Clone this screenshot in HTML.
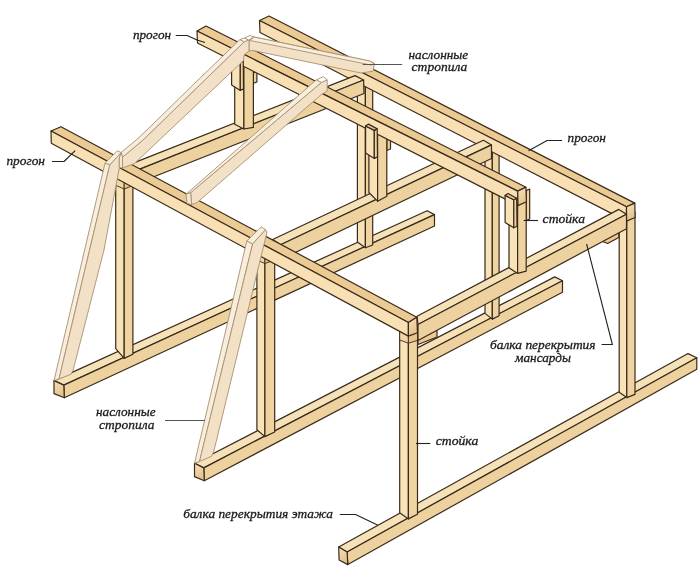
<!DOCTYPE html>
<html><head><meta charset="utf-8"><title>Каркас мансарды</title>
<style>html,body{margin:0;padding:0;background:#fff}svg{display:block}</style></head>
<body><svg width="700" height="570" viewBox="0 0 700 570">
<defs><linearGradient id="eg" x1="0" y1="0" x2="0.3" y2="1"><stop offset="0" stop-color="#F7E2BC"/><stop offset="1" stop-color="#E4C18D"/></linearGradient></defs>
<rect width="700" height="570" fill="#fff"/>
<polygon points="54.0,380.6 427.1,210.7 434.5,214.6 63.8,385.1" fill="#F6E2B8" stroke="#3a2a1a" stroke-width="1.20" stroke-linejoin="round" />
<polygon points="63.8,385.1 434.5,214.6 434.5,226.0 64.3,397.7" fill="#EDD19F" stroke="#3a2a1a" stroke-width="1.20" stroke-linejoin="round" />
<polygon points="54.0,380.6 63.8,385.1 64.3,397.7 54.0,393.6" fill="url(#eg)" stroke="#3a2a1a" stroke-width="1.20" stroke-linejoin="round" />
<polygon points="194.5,463.3 554.7,276.9 562.5,280.7 203.8,467.9" fill="#F6E2B8" stroke="#3a2a1a" stroke-width="1.20" stroke-linejoin="round" />
<polygon points="203.8,467.9 562.5,280.7 562.5,292.2 204.3,480.7" fill="#EDD19F" stroke="#3a2a1a" stroke-width="1.20" stroke-linejoin="round" />
<polygon points="194.5,463.3 203.8,467.9 204.3,480.7 194.5,476.6" fill="url(#eg)" stroke="#3a2a1a" stroke-width="1.20" stroke-linejoin="round" />
<polygon points="338.7,547.0 688.0,353.6 696.8,357.7 347.1,552.0" fill="#F6E2B8" stroke="#3a2a1a" stroke-width="1.20" stroke-linejoin="round" />
<polygon points="347.1,552.0 696.8,357.7 696.8,369.3 347.8,564.6" fill="#EDD19F" stroke="#3a2a1a" stroke-width="1.20" stroke-linejoin="round" />
<polygon points="338.7,547.0 347.1,552.0 347.8,564.6 339.1,560.0" fill="url(#eg)" stroke="#3a2a1a" stroke-width="1.20" stroke-linejoin="round" />
<polygon points="357.4,80.0 365.4,80.0 365.4,247.7 357.4,242.0" fill="#F8E3B9" stroke="#3a2a1a" stroke-width="1.20" stroke-linejoin="round" />
<polygon points="365.4,80.0 372.7,80.0 372.7,245.0 365.4,247.7" fill="#EFD3A0" stroke="#3a2a1a" stroke-width="1.20" stroke-linejoin="round" />
<polygon points="485.0,146.0 492.3,146.0 492.3,319.1 485.0,313.4" fill="#F8E3B9" stroke="#3a2a1a" stroke-width="1.20" stroke-linejoin="round" />
<polygon points="492.3,146.0 499.1,146.0 499.1,315.7 492.3,319.1" fill="#EFD3A0" stroke="#3a2a1a" stroke-width="1.20" stroke-linejoin="round" />
<polygon points="619.2,212.0 626.8,212.0 626.8,397.6 619.2,392.2" fill="#F8E3B9" stroke="#3a2a1a" stroke-width="1.20" stroke-linejoin="round" />
<polygon points="626.8,212.0 635.0,212.0 635.0,394.4 626.8,397.6" fill="#EFD3A0" stroke="#3a2a1a" stroke-width="1.20" stroke-linejoin="round" />
<polygon points="259.5,20.5 269.0,16.0 634.8,203.1 626.5,206.7" fill="#EBCA93" stroke="#3a2a1a" stroke-width="1.20" stroke-linejoin="round" />
<polygon points="259.5,20.5 626.5,206.7 626.5,221.1 260.0,32.5" fill="#F8E0B4" stroke="#3a2a1a" stroke-width="1.20" stroke-linejoin="round" />
<polygon points="626.5,206.7 634.8,203.1 635.1,217.5 626.5,221.1" fill="url(#eg)" stroke="#3a2a1a" stroke-width="1.20" stroke-linejoin="round" />
<polygon points="115.7,176.0 124.2,176.0 124.2,358.4 115.7,348.6" fill="#F8E3B9" stroke="#3a2a1a" stroke-width="1.20" stroke-linejoin="round" />
<polygon points="124.2,176.0 132.9,176.0 132.9,354.3 124.2,358.4" fill="#EFD3A0" stroke="#3a2a1a" stroke-width="1.20" stroke-linejoin="round" />
<polygon points="256.9,252.0 264.9,252.0 264.9,436.6 256.9,429.7" fill="#F8E3B9" stroke="#3a2a1a" stroke-width="1.20" stroke-linejoin="round" />
<polygon points="264.9,252.0 274.7,252.0 274.7,432.0 264.9,436.6" fill="#EFD3A0" stroke="#3a2a1a" stroke-width="1.20" stroke-linejoin="round" />
<polygon points="399.7,326.0 408.4,326.0 408.4,518.9 399.7,512.7" fill="#F8E3B9" stroke="#3a2a1a" stroke-width="1.20" stroke-linejoin="round" />
<polygon points="408.4,326.0 417.5,326.0 417.5,514.3 408.4,518.9" fill="#EFD3A0" stroke="#3a2a1a" stroke-width="1.20" stroke-linejoin="round" />
<polygon points="115.7,176.0 124.2,176.0 124.2,189.0 115.7,185.3" fill="#F0D6A6" stroke="#3a2a1a" stroke-width="0.90" stroke-linejoin="round" />
<polygon points="124.2,176.0 132.9,176.0 132.9,185.5 124.2,189.0" fill="#E6C58F" stroke="#3a2a1a" stroke-width="0.90" stroke-linejoin="round" />
<polygon points="256.9,252.0 264.9,252.0 264.9,263.5 256.9,260.0" fill="#F0D6A6" stroke="#3a2a1a" stroke-width="0.90" stroke-linejoin="round" />
<polygon points="264.9,252.0 274.7,252.0 274.7,260.0 264.9,263.5" fill="#E6C58F" stroke="#3a2a1a" stroke-width="0.90" stroke-linejoin="round" />
<polygon points="399.7,326.0 408.4,326.0 408.4,343.2 399.7,340.0" fill="#F0D6A6" stroke="#3a2a1a" stroke-width="0.90" stroke-linejoin="round" />
<polygon points="408.4,326.0 417.5,326.0 417.5,340.4 408.4,343.2" fill="#E6C58F" stroke="#3a2a1a" stroke-width="0.90" stroke-linejoin="round" />
<polygon points="128.0,165.1 355.0,75.6 363.6,80.0 128.0,173.9" fill="#F6E2B8" stroke="#3a2a1a" stroke-width="1.20" stroke-linejoin="round" />
<polygon points="128.0,173.9 363.6,80.0 364.0,93.5 133.0,185.0" fill="#EDD19F" stroke="#3a2a1a" stroke-width="1.20" stroke-linejoin="round" />
<polygon points="253.4,73.0 256.9,71.5 256.9,82.0 253.4,83.2" fill="#EFD3A0" stroke="#3a2a1a" stroke-width="1.20" stroke-linejoin="round" />
<polygon points="234.7,60.0 243.9,60.0 243.9,129.0 234.7,124.3" fill="#F8E3B9" stroke="#3a2a1a" stroke-width="1.20" stroke-linejoin="round" />
<polygon points="243.9,60.0 253.4,60.0 253.4,127.4 243.9,129.0" fill="#EFD3A0" stroke="#3a2a1a" stroke-width="1.20" stroke-linejoin="round" />
<polygon points="272.6,239.5 483.4,140.3 491.5,144.9 280.6,244.8" fill="#F6E2B8" stroke="#3a2a1a" stroke-width="1.20" stroke-linejoin="round" />
<polygon points="280.6,244.8 491.5,144.9 491.5,158.5 287.4,256.3" fill="#EDD19F" stroke="#3a2a1a" stroke-width="1.20" stroke-linejoin="round" />
<polygon points="386.8,140.0 390.5,138.5 390.5,149.0 386.8,150.5" fill="#EFD3A0" stroke="#3a2a1a" stroke-width="1.20" stroke-linejoin="round" />
<polygon points="368.9,130.0 377.6,130.0 377.6,201.2 368.9,192.5" fill="#F8E3B9" stroke="#3a2a1a" stroke-width="1.20" stroke-linejoin="round" />
<polygon points="377.6,130.0 386.8,130.0 386.8,196.3 377.6,201.2" fill="#EFD3A0" stroke="#3a2a1a" stroke-width="1.20" stroke-linejoin="round" />
<polygon points="418.0,336.0 437.0,326.0 437.0,337.0 418.0,344.5" fill="#EBCA93" stroke="#3a2a1a" stroke-width="1.20" stroke-linejoin="round" />
<polygon points="602.6,236.0 602.6,241.5 607.6,243.5 618.8,237.5 618.8,228.0" fill="#EBCA93" stroke="#3a2a1a" stroke-width="1.20" stroke-linejoin="round" />
<polygon points="417.0,316.2 618.8,209.4 626.5,214.3 418.0,324.5" fill="#F6E2B8" stroke="#3a2a1a" stroke-width="1.20" stroke-linejoin="round" />
<polygon points="418.0,324.5 626.5,214.3 626.5,228.7 418.0,340.5" fill="#EDD19F" stroke="#3a2a1a" stroke-width="1.20" stroke-linejoin="round" />
<polygon points="526.2,190.6 529.7,189.0 529.7,219.0 526.2,220.5" fill="#EFD3A0" stroke="#3a2a1a" stroke-width="1.20" stroke-linejoin="round" />
<polygon points="509.0,196.0 517.6,196.0 517.6,273.4 509.0,267.7" fill="#F8E3B9" stroke="#3a2a1a" stroke-width="1.20" stroke-linejoin="round" />
<polygon points="517.6,196.0 526.2,196.0 526.2,271.1 517.6,273.4" fill="#EFD3A0" stroke="#3a2a1a" stroke-width="1.20" stroke-linejoin="round" />
<polygon points="197.0,31.0 206.0,26.0 525.9,187.2 517.7,191.1" fill="#EBCA93" stroke="#3a2a1a" stroke-width="1.20" stroke-linejoin="round" />
<polygon points="197.0,31.0 517.7,191.1 518.0,205.6 197.5,43.0" fill="#F8E0B4" stroke="#3a2a1a" stroke-width="1.20" stroke-linejoin="round" />
<polygon points="517.7,191.1 525.9,187.2 526.4,201.7 518.0,205.6" fill="url(#eg)" stroke="#3a2a1a" stroke-width="1.20" stroke-linejoin="round" />
<polygon points="505.1,195.4 513.8,199.8 513.8,227.8 505.1,222.5" fill="#F8E3B9" stroke="#3a2a1a" stroke-width="1.20" stroke-linejoin="round" />
<polygon points="513.8,199.8 516.7,198.3 517.0,226.3 513.8,227.8" fill="#EFD3A0" stroke="#3a2a1a" stroke-width="1.20" stroke-linejoin="round" />
<polygon points="505.1,195.4 508.0,193.5 516.7,198.3 513.8,199.8" fill="#EBCA93" stroke="#3a2a1a" stroke-width="1.20" stroke-linejoin="round" />
<polygon points="365.6,126.0 374.3,130.4 374.3,158.4 365.6,153.1" fill="#F8E3B9" stroke="#3a2a1a" stroke-width="1.20" stroke-linejoin="round" />
<polygon points="374.3,130.4 377.2,128.9 377.5,156.9 374.3,158.4" fill="#EFD3A0" stroke="#3a2a1a" stroke-width="1.20" stroke-linejoin="round" />
<polygon points="365.6,126.0 368.5,124.1 377.2,128.9 374.3,130.4" fill="#EBCA93" stroke="#3a2a1a" stroke-width="1.20" stroke-linejoin="round" />
<polygon points="231.6,58.0 240.3,62.4 240.3,90.4 231.6,85.1" fill="#F8E3B9" stroke="#3a2a1a" stroke-width="1.20" stroke-linejoin="round" />
<polygon points="240.3,62.4 243.2,60.9 243.5,88.9 240.3,90.4" fill="#EFD3A0" stroke="#3a2a1a" stroke-width="1.20" stroke-linejoin="round" />
<polygon points="231.6,58.0 234.5,56.1 243.2,60.9 240.3,62.4" fill="#EBCA93" stroke="#3a2a1a" stroke-width="1.20" stroke-linejoin="round" />
<polygon points="51.0,131.0 61.0,126.7 416.8,317.2 408.4,322.5" fill="#EBCA93" stroke="#3a2a1a" stroke-width="1.20" stroke-linejoin="round" />
<polygon points="51.0,131.0 408.4,322.5 408.4,336.1 51.3,143.3" fill="#F8E0B4" stroke="#3a2a1a" stroke-width="1.20" stroke-linejoin="round" />
<polygon points="408.4,322.5 416.8,317.2 417.5,332.7 408.4,336.1" fill="url(#eg)" stroke="#3a2a1a" stroke-width="1.20" stroke-linejoin="round" />
<polygon points="249.0,40.0 249.0,51.0 253.0,50.5 361.0,73.0 373.0,71.2 374.5,63.5 369.7,61.0 254.0,37.0" fill="#F2E1C6" stroke="#a89070" stroke-width="0.90" stroke-linejoin="round" />
<polygon points="254.0,37.0 369.7,61.0 374.0,63.5 371.0,65.0 250.0,40.5" fill="#F8EEDD" stroke="#a89070" stroke-width="0.90" stroke-linejoin="round" />
<polygon points="122.5,157.2 143.0,140.0 244.3,41.7 249.0,40.0 249.0,51.0 244.0,55.0 243.5,60.5 134.5,163.5 122.5,168.0" fill="#F2E1C6" stroke="#a89070" stroke-width="0.90" stroke-linejoin="round" />
<polygon points="121.2,152.5 137.0,139.3 150.0,127.0 198.0,80.0 240.0,39.5 244.3,41.7 143.0,140.0 122.5,157.2" fill="#F8EEDD" stroke="#a89070" stroke-width="0.90" stroke-linejoin="round" />
<polygon points="240.0,39.5 244.5,38.0 248.5,40.0 244.3,41.7" fill="#fff" stroke="#a89070" stroke-width="0.90" stroke-linejoin="round" />
<polygon points="244.5,38.0 250.0,35.5 254.0,37.0 248.5,40.0" fill="#fff" stroke="#a89070" stroke-width="0.90" stroke-linejoin="round" />
<polygon points="190.6,192.7 321.5,82.4 327.2,79.8 327.2,91.0 321.5,94.4 197.4,202.3 191.7,204.6" fill="#F2E1C6" stroke="#a89070" stroke-width="0.90" stroke-linejoin="round" />
<polygon points="186.0,194.3 316.4,79.8 321.5,82.4 190.6,192.7" fill="#F8EEDD" stroke="#a89070" stroke-width="0.90" stroke-linejoin="round" />
<polygon points="316.4,79.8 323.3,76.7 327.2,79.8 321.5,82.4" fill="#fff" stroke="#a89070" stroke-width="0.90" stroke-linejoin="round" />
<polygon points="186.0,194.3 190.6,192.7 191.7,204.6 187.1,203.4" fill="#F6E9D4" stroke="#a89070" stroke-width="0.90" stroke-linejoin="round" />
<polygon points="54.0,380.6 59.0,379.0 109.8,164.8 105.0,163.2" fill="#F8EEDD" stroke="#a89070" stroke-width="0.90" stroke-linejoin="round" />
<polygon points="59.0,379.0 71.0,374.3 73.2,369.8 104.0,250.0 119.3,168.0 119.3,158.0 121.2,152.5 109.8,164.8" fill="#F2E1C6" stroke="#a89070" stroke-width="0.90" stroke-linejoin="round" />
<polygon points="105.0,163.2 117.3,150.8 121.2,152.5 109.8,164.8" fill="#F8EEDD" stroke="#a89070" stroke-width="0.90" stroke-linejoin="round" />
<polygon points="194.5,463.3 199.5,461.5 252.6,243.9 246.8,241.0" fill="#F8EEDD" stroke="#a89070" stroke-width="0.90" stroke-linejoin="round" />
<polygon points="199.5,461.5 211.5,456.3 213.8,451.4 267.0,232.0 265.5,229.5 252.6,243.9" fill="#F2E1C6" stroke="#a89070" stroke-width="0.90" stroke-linejoin="round" />
<polygon points="246.8,241.0 261.2,227.0 265.5,229.5 252.6,243.9" fill="#F8EEDD" stroke="#a89070" stroke-width="0.90" stroke-linejoin="round" />
<polygon points="119.3,158.0 121.2,152.5 122.5,157.2 122.5,168.0 119.3,167.5" fill="#F6E9D4" stroke="#a89070" stroke-width="0.90" stroke-linejoin="round" /><g font-family="'Liberation Serif','DejaVu Serif',serif" font-style="italic" font-size="12.8" fill="#1c1c1c" stroke="#1c1c1c" stroke-width="0.3" style="filter:grayscale(1)">
<text x="6.4" y="165.0" textLength="38.6" lengthAdjust="spacingAndGlyphs">прогон</text>
<text x="132.9" y="39.0" textLength="38.2" lengthAdjust="spacingAndGlyphs">прогон</text>
<text x="567.6" y="141.9" textLength="38.3" lengthAdjust="spacingAndGlyphs">прогон</text>
<text x="542.6" y="222.9" textLength="42.4" lengthAdjust="spacingAndGlyphs">стойка</text>
<text x="435.7" y="445.4" textLength="42.6" lengthAdjust="spacingAndGlyphs">стойка</text>
<text x="408.5" y="58.5" textLength="59.7" lengthAdjust="spacingAndGlyphs">наслонные</text>
<text x="411.6" y="71.2" textLength="55.7" lengthAdjust="spacingAndGlyphs">стропила</text>
<text x="96.0" y="416.4" textLength="59.6" lengthAdjust="spacingAndGlyphs">наслонные</text>
<text x="99.0" y="429.0" textLength="55.4" lengthAdjust="spacingAndGlyphs">стропила</text>
<text x="490.0" y="349.0" textLength="105.6" lengthAdjust="spacingAndGlyphs">балка перекрытия</text>
<text x="515.0" y="362.0" textLength="56.0" lengthAdjust="spacingAndGlyphs">мансарды</text>
<text x="183.2" y="518.4" textLength="149.7" lengthAdjust="spacingAndGlyphs">балка перекрытия этажа</text>
</g>
<g fill="none" stroke="#222" stroke-width="1.1" stroke-linejoin="round">
<polyline points="175.7,35.5 187.1,35.5 197.1,40 205,42.6"/>
<polyline points="52,161.5 64,161.5 75.2,150.6"/>
<polyline points="528.6,150.7 547.1,140.5 562.1,140.5"/>
<polyline points="523.6,220.5 538,220.5"/>
<polyline points="416,443.5 430.3,443.5"/>
<polyline points="601.6,344.5 612.4,344.5 586.6,244"/>
<polyline points="339.8,514.5 355.5,514.5 377.5,525"/>
</g>
<g fill="none" stroke="#555" stroke-width="1.1">
<polyline points="362.7,64.5 402.2,64.5"/>
<polyline points="165,420.5 205,420.5"/>
</g>
</svg></body></html>
